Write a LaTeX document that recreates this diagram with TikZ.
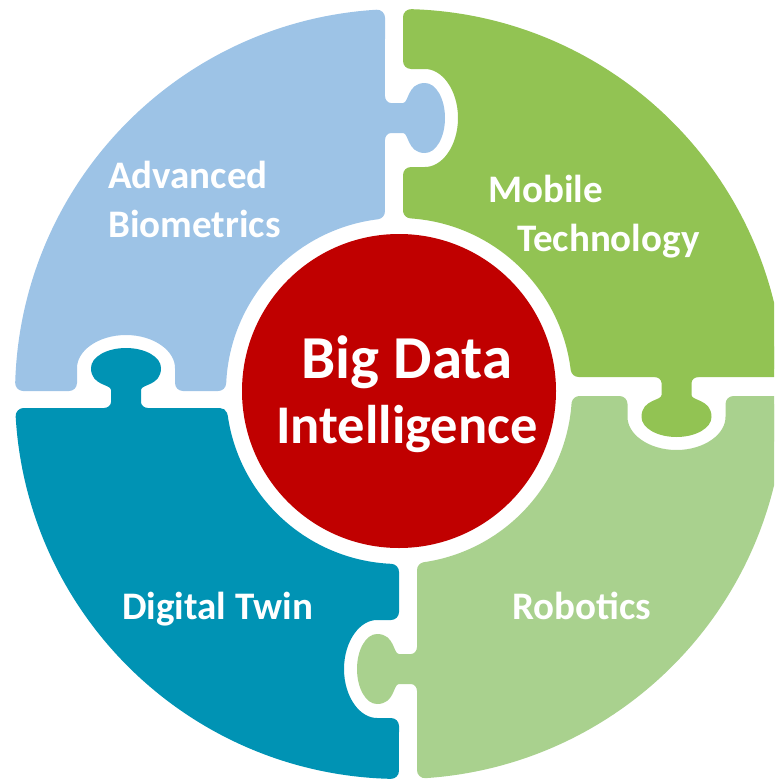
\documentclass[tikz,border=0pt]{standalone}
\usepackage{fontspec}
\setmainfont{Carlito}
\definecolor{blueP}{HTML}{9DC3E6}
\definecolor{greenP}{HTML}{92C353}
\definecolor{tealP}{HTML}{0093B4}
\definecolor{lgreenP}{HTML}{A9D18E}
\definecolor{redC}{HTML}{C00000}
\tikzset{
  piece/.style={line width=16pt, line join=round},
  lbl/.style={text=white, inner sep=0pt, font=\fontsize{39}{49}\selectfont\bfseries},
}
\newcommand\tabfill[1]{\fill[#1] (-3,-22) -- (0,-22) .. controls (0,-18.5) and (2.5,-15) .. (6,-15) -- (18,-15) .. controls (24,-15) and (22,-35) .. (40,-35) .. controls (51,-35) and (60,-19.3) .. (60,0) .. controls (60,19.3) and (51,35) .. (40,35) .. controls (22,35) and (24,15) .. (18,15) -- (6,15) .. controls (2.5,15) and (0,18.5) .. (0,22) -- (-3,22) -- cycle;}
\begin{document}
\begin{tikzpicture}[x=1pt,y=-1pt]
\useasboundingbox (0,0) rectangle (774,779);
\clip (0,0) rectangle (774,779);
% bodies (eroded outline, dilated by the stroke)
\filldraw[piece, fill=blueP, draw=blueP] (23.2,383) -- (69,383) -- (69,368) arc[start angle=180, end angle=360, x radius=57, y radius=41] -- (183,383) -- (218.2,383) arc[start angle=182.53, end angle=263.0, radius=181] -- (377,17.7) arc[start angle=266.5, end angle=181.67, radius=377] -- cycle;
\filldraw[piece, fill=greenP, draw=greenP] (411,210.4) -- (411,175) -- (425,175) arc[start angle=90, end angle=-90, x radius=41, y radius=57] -- (411,61) -- (411,17.16) arc[start angle=271.67, end angle=356.2, radius=377] -- (578.66,369) arc[start angle=353.02, end angle=273.80, radius=181] -- cycle;
\filldraw[piece, fill=tealP, draw=tealP] (219.73,416) -- (23.64,416) arc[start angle=176.65, end angle=91.37, radius=377] -- (391,726) -- (377,726) arc[start angle=90, end angle=270, x radius=41, y radius=57] -- (391,612) -- (391,571.82) arc[start angle=92.53, end angle=172.06, radius=181] -- cycle;
\filldraw[piece, fill=lgreenP, draw=lgreenP] (579.53,404) -- (619.5,404) -- (619.5,417) arc[start angle=180, end angle=0, x radius=57, y radius=41] -- (733.5,404) -- (776.87,404) arc[start angle=1.52, end angle=86.20, radius=377] -- (425,570.12) arc[start angle=81.74, end angle=4.12, radius=181] -- cycle;
% tabs
\begin{scope}[shift={(385,118)}] \tabfill{blueP} \end{scope}
\begin{scope}[shift={(126,408)}, x={(0pt,1pt)}, y={(1pt,0pt)}] \tabfill{tealP} \end{scope}
\begin{scope}[shift={(676.5,377)}, x={(0pt,-1pt)}, y={(1pt,0pt)}] \tabfill{greenP} \end{scope}
\begin{scope}[shift={(417,669)}, x={(-1pt,0pt)}, y={(0pt,1pt)}] \tabfill{lgreenP} \end{scope}
% centre
\fill[redC] (399,391) circle[radius=157];
\node[text=white, inner sep=0pt, anchor=base, font=\fontsize{61}{65}\selectfont\bfseries] (big) at (407,378) {\begin{tabular}[t]{@{}c@{}}Big Data\\\fontsize{54.5}{65}\selectfont Intelligence\end{tabular}};
% labels
\node[lbl, anchor=base west] (adv) at (108,188) {\begin{tabular}[t]{@{}l@{}}Advanced\\Biometrics\end{tabular}};
\node[lbl, anchor=base west] (mob) at (488,202) {\begin{tabular}[t]{@{}l@{}}Mobile\\\hspace*{29pt}Technology\end{tabular}};
\node[lbl, anchor=base west] (dig) at (122,619) {Digital Twin};
\node[lbl, anchor=base west] (rob) at (512,619) {Robotics};
\end{tikzpicture}
\end{document}
